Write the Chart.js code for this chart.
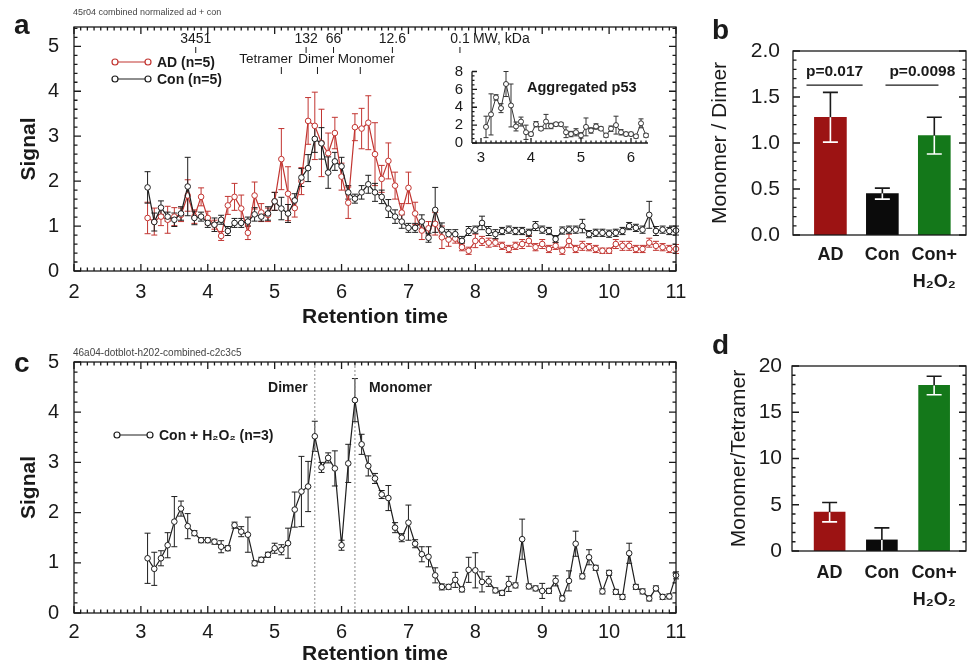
<!DOCTYPE html>
<html>
<head>
<meta charset="utf-8">
<title>p53 retention profiles</title>
<script src="https://cdn.jsdelivr.net/npm/chart.js@4.4.1/dist/chart.umd.min.js"></script>
<style>
  body { margin: 0; background: #fff; }
  #fig { position: relative; width: 973px; height: 667px; background: #fff; overflow: hidden;
         font-family: "Liberation Sans", Arial, Helvetica, sans-serif; color: #1a1a1a; }
  #fig canvas { position: absolute; }
  .letter { position: absolute; font-weight: bold; font-size: 28px; line-height: 28px; }
  .note { position: absolute; color: #444; white-space: nowrap; }
</style>
</head>
<body>
<div id="fig">
  <canvas id="panelA" width="700" height="335" style="left:0;top:0"></canvas>
  <canvas id="panelC" width="700" height="332" style="left:0;top:335px"></canvas>
  <canvas id="inset" width="230" height="120" style="left:430px;top:55px"></canvas>
  <canvas id="panelB" width="273" height="300" style="left:700px;top:0"></canvas>
  <canvas id="panelD" width="273" height="337" style="left:700px;top:330px"></canvas>
  <div class="letter" style="left:14px;top:11px">a</div>
  <div class="letter" style="left:712px;top:16px">b</div>
  <div class="letter" style="left:14px;top:349px">c</div>
  <div class="letter" style="left:712px;top:331px">d</div>
  <div class="note" style="left:73px;top:7px;font-size:9px">45r04 combined normalized ad + con</div>
  <div class="note" style="left:73px;top:347px;font-size:10px">46a04-dotblot-h202-combined-c2c3c5</div>
</div>
<script>
// ---- data ----
var retentionTime = [3.1, 3.2, 3.3, 3.4, 3.5, 3.6, 3.7, 3.8, 3.9, 4.0,
    4.1, 4.2, 4.3, 4.4, 4.5, 4.6, 4.7, 4.8, 4.9, 5.0,
    5.1, 5.2, 5.3, 5.4, 5.5, 5.6, 5.7, 5.8, 5.9, 6.0,
    6.1, 6.2, 6.3, 6.4, 6.5, 6.6, 6.7, 6.8, 6.9, 7.0,
    7.1, 7.2, 7.3, 7.4, 7.5, 7.6, 7.7, 7.8, 7.9, 8.0,
    8.1, 8.2, 8.3, 8.4, 8.5, 8.6, 8.7, 8.8, 8.9, 9.0,
    9.1, 9.2, 9.3, 9.4, 9.5, 9.6, 9.7, 9.8, 9.9, 10.0,
    10.1, 10.2, 10.3, 10.4, 10.5, 10.6, 10.7, 10.8, 10.9, 11.0];

var adSignal = [1.18, 1.10, 1.21, 1.14, 1.21, 1.25, 1.68, 1.21, 1.65, 1.18,
    1.03, 0.78, 1.46, 1.65, 1.39, 0.85, 1.68, 1.30, 1.25, 1.55,
    2.49, 1.72, 1.40, 2.00, 3.34, 3.23, 2.85, 2.62, 3.07, 2.10,
    1.52, 3.20, 3.17, 3.30, 2.60, 2.05, 2.45, 1.90, 1.30, 1.85,
    1.28, 0.90, 0.95, 1.05, 0.75, 0.70, 0.72, 0.53, 0.45, 0.67,
    0.67, 0.63, 0.63, 0.56, 0.49, 0.56, 0.60, 0.67, 0.53, 0.60,
    0.49, 0.56, 0.45, 0.67, 0.49, 0.56, 0.53, 0.49, 0.45, 0.45,
    0.60, 0.56, 0.56, 0.49, 0.49, 0.63, 0.56, 0.53, 0.49, 0.49];
var adError = [0.35, 0.30, 0.20, 0.30, 0.20, 0.15, 0.35, 0.15, 0.20, 0.15,
    0.10, 0.10, 0.20, 0.30, 0.30, 0.15, 0.30, 0.20, 0.15, 0.20,
    0.68, 0.60, 0.20, 0.30, 0.52, 0.75, 0.75, 0.45, 0.35, 0.30,
    0.35, 0.30, 0.45, 0.60, 0.70, 0.30, 0.40, 0.30, 0.20, 0.35,
    0.25, 0.20, 0.15, 0.25, 0.25, 0.15, 0.10, 0.08, 0.08, 0.15,
    0.10, 0.10, 0.08, 0.08, 0.08, 0.08, 0.10, 0.12, 0.08, 0.10,
    0.08, 0.08, 0.08, 0.15, 0.08, 0.10, 0.08, 0.08, 0.06, 0.06,
    0.10, 0.10, 0.10, 0.08, 0.08, 0.10, 0.10, 0.08, 0.08, 0.10];

var conSignal = [1.86, 1.09, 1.41, 1.21, 1.14, 1.28, 1.88, 1.18, 1.21, 1.07,
    1.03, 1.14, 0.89, 1.07, 1.07, 1.10, 1.26, 1.21, 1.28, 1.55,
    1.39, 1.28, 1.57, 2.08, 2.29, 2.94, 2.84, 2.19, 2.44, 2.33,
    1.75, 1.61, 1.75, 1.93, 1.75, 1.65, 1.39, 1.21, 1.10, 0.96,
    0.96, 1.10, 0.74, 1.36, 0.92, 0.82, 0.82, 0.67, 0.89, 0.92,
    1.07, 0.89, 0.82, 0.89, 0.92, 0.89, 0.89, 0.85, 1.00, 0.92,
    0.89, 0.71, 0.90, 0.92, 0.92, 1.00, 0.82, 0.85, 0.85, 0.83,
    0.85, 0.89, 1.00, 0.96, 0.92, 1.25, 0.89, 0.92, 0.89, 0.90];
var conError = [0.35, 0.20, 0.15, 0.10, 0.15, 0.15, 0.65, 0.15, 0.10, 0.10,
    0.15, 0.10, 0.10, 0.10, 0.10, 0.10, 0.15, 0.10, 0.15, 0.20,
    0.25, 0.20, 0.15, 0.20, 0.30, 0.30, 0.35, 0.35, 0.20, 0.20,
    0.15, 0.10, 0.15, 0.20, 0.20, 0.15, 0.20, 0.15, 0.15, 0.10,
    0.10, 0.15, 0.10, 0.50, 0.15, 0.10, 0.10, 0.10, 0.10, 0.08,
    0.15, 0.10, 0.10, 0.08, 0.08, 0.08, 0.08, 0.08, 0.10, 0.08,
    0.08, 0.08, 0.08, 0.08, 0.08, 0.15, 0.08, 0.08, 0.08, 0.08,
    0.08, 0.08, 0.08, 0.08, 0.08, 0.30, 0.10, 0.08, 0.08, 0.10];

var h2o2Signal = [1.09, 0.88, 1.09, 1.35, 1.82, 2.08, 1.73, 1.59, 1.45, 1.45,
    1.42, 1.32, 1.29, 1.75, 1.62, 1.56, 0.99, 1.06, 1.16, 1.29,
    1.26, 1.39, 2.06, 2.42, 2.52, 3.52, 2.90, 3.09, 2.88, 1.35,
    2.98, 4.24, 3.36, 2.93, 2.68, 2.36, 2.29, 1.70, 1.50, 1.80,
    1.38, 1.17, 1.12, 0.75, 0.52, 0.52, 0.66, 0.47, 0.86, 0.85,
    0.62, 0.63, 0.45, 0.40, 0.58, 0.55, 1.47, 0.53, 0.49, 0.44,
    0.44, 0.64, 0.29, 0.64, 1.38, 0.73, 1.11, 0.90, 0.43, 0.80,
    0.42, 0.32, 1.19, 0.52, 0.43, 0.29, 0.49, 0.32, 0.33, 0.75];
var h2o2Error = [0.50, 0.33, 0.15, 0.25, 0.50, 0.15, 0.25, 0.05, 0.05, 0.05,
    0.05, 0.12, 0.05, 0.06, 0.10, 0.35, 0.05, 0.05, 0.05, 0.10,
    0.10, 0.30, 0.35, 0.70, 0.50, 0.30, 0.10, 0.10, 0.35, 0.10,
    0.38, 0.43, 0.20, 0.20, 0.10, 0.08, 0.25, 0.10, 0.08, 0.35,
    0.08, 0.15, 0.20, 0.15, 0.06, 0.05, 0.15, 0.05, 0.25, 0.35,
    0.20, 0.10, 0.05, 0.05, 0.15, 0.05, 0.40, 0.05, 0.05, 0.15,
    0.05, 0.10, 0.05, 0.20, 0.25, 0.05, 0.15, 0.05, 0.05, 0.05,
    0.05, 0.05, 0.20, 0.05, 0.05, 0.05, 0.05, 0.05, 0.05, 0.07];

var insetTime = [3.1, 3.2, 3.3, 3.4, 3.5, 3.6, 3.7, 3.8, 3.9, 4.0,
    4.1, 4.2, 4.3, 4.4, 4.5, 4.6, 4.7, 4.8, 4.9, 5.0,
    5.1, 5.2, 5.3, 5.4, 5.5, 5.6, 5.7, 5.8, 5.9, 6.0,
    6.1, 6.2, 6.3];
var aggSignal = [1.8, 3.2, 5.1, 3.9, 6.6, 4.2, 1.85, 2.4, 1.2, 1.0,
    2.1, 1.6, 2.4, 1.9, 2.1, 2.1, 1.2, 1.0, 1.2, 0.85,
    1.8, 1.4, 1.85, 1.6, 0.85, 1.6, 2.0, 1.2, 1.0, 1.0,
    0.75, 2.2, 0.85];
var aggError = [1.2, 2.3, 0.3, 0.5, 1.4, 2.4, 0.5, 0.5, 0.8, 0.2,
    0.3, 0.2, 0.8, 0.3, 0.2, 0.2, 0.6, 0.3, 0.4, 0.3,
    1.0, 0.3, 0.3, 0.2, 0.2, 0.3, 1.0, 0.3, 0.2, 0.2,
    0.2, 0.5, 0.2];

// marker positions on the top axis of panel a
var mwLabels = ['3451', '132', '66', '12.6', '0.1'];
var mwTimes = [3.82, 5.47, 5.88, 6.76, 7.77];
var speciesNames = ['Tetramer', 'Dimer', 'Monomer'];
var speciesTimes = [5.10, 5.64, 6.28];
var speciesLabelAt = [4.87, 5.62, 6.37];
var dimerTime = 5.6;
var monomerTime = 6.2;

// bar panels
var groupPos = [0, 1, 2];
var groupLabels = [['AD'], ['Con'], ['Con+', 'H\u2082O\u2082']];
var monoDimer = [1.28, 0.45, 1.08];
var monoDimerErr = [0.27, 0.06, 0.20];
var monoTetra = [4.2, 1.2, 17.9];
var monoTetraErr = [1.05, 1.3, 1.0];
var pTexts = ['p=0.017', 'p=0.0098'];

var xMajor = [2, 3, 4, 5, 6, 7, 8, 9, 10, 11];
var yMajor = [0, 1, 2, 3, 4, 5];

// ---- styling ----
var ink = '#1a1a1a';
var adRed = '#c23531';
var conBlack = '#1e1e1e';
var barColors = ['#9c1313', '#0b0b0b', '#14781a'];
var FONT = '"Liberation Sans", Arial, Helvetica, sans-serif';
Chart.defaults.font.family = FONT;
Chart.defaults.color = ink;

function pairs(xs, ys) {
    return xs.map(function (x, i) { return {x: x, y: ys[i]}; });
}
function fixTicks(values) {
    return function (scale) {
        scale.ticks = values.map(function (v) { return {value: v}; });
    };
}

// box + inward tick marks
function framePlugin(sides, box) {
    return {
        id: 'frame',
        afterDraw: function (chart) {
            var ctx = chart.ctx, a = chart.chartArea;
            ctx.save();
            ctx.strokeStyle = ink;
            ctx.lineWidth = 1.3;
            if (box) ctx.strokeRect(a.left, a.top, a.right - a.left, a.bottom - a.top);
            sides.forEach(function (s) {
                var scale = chart.scales[s.axis];
                var len = s.len || 7;
                ctx.beginPath();
                if (!box) {
                    if (s.side === 'left') { ctx.moveTo(a.left, a.top); ctx.lineTo(a.left, a.bottom); }
                    if (s.side === 'bottom') { ctx.moveTo(a.left, a.bottom); ctx.lineTo(a.right, a.bottom); }
                }
                var first = Math.ceil(scale.min / s.minor - 1e-6);
                for (var k = first; k * s.minor <= scale.max + 1e-6; k++) {
                    var v = k * s.minor;
                    var major = Math.abs(v / s.major - Math.round(v / s.major)) < 1e-6;
                    var l = major ? len : len / 2;
                    var p = scale.getPixelForValue(v);
                    if (s.side === 'bottom') { ctx.moveTo(p, a.bottom); ctx.lineTo(p, a.bottom - l); }
                    else if (s.side === 'top') { ctx.moveTo(p, a.top); ctx.lineTo(p, a.top + l); }
                    else if (s.side === 'left') { ctx.moveTo(a.left, p); ctx.lineTo(a.left + l, p); }
                    else { ctx.moveTo(a.right, p); ctx.lineTo(a.right - l, p); }
                }
                ctx.stroke();
            });
            ctx.restore();
        }
    };
}

// symmetric error bars under the markers
function lineErrorPlugin(errLists, cap) {
    return {
        id: 'lineErrors',
        beforeDatasetsDraw: function (chart) {
            var ctx = chart.ctx, ys = chart.scales.y;
            ctx.save();
            ctx.lineWidth = 1;
            for (var di = errLists.length - 1; di >= 0; di--) {
                var errs = errLists[di];
                var meta = chart.getDatasetMeta(di);
                var ds = chart.data.datasets[di];
                ctx.strokeStyle = ds.borderColor;
                ctx.beginPath();
                meta.data.forEach(function (pt, i) {
                    var v = ds.data[i].y, e = errs[i];
                    var top = ys.getPixelForValue(v + e);
                    var bot = ys.getPixelForValue(Math.max(v - e, ys.min));
                    ctx.moveTo(pt.x, top); ctx.lineTo(pt.x, bot);
                    ctx.moveTo(pt.x - cap, top); ctx.lineTo(pt.x + cap, top);
                    ctx.moveTo(pt.x - cap, bot); ctx.lineTo(pt.x + cap, bot);
                });
                ctx.stroke();
            }
            ctx.restore();
        }
    };
}

// error bars on bars: black above the bar, white inside it
function barErrorPlugin(errs) {
    return {
        id: 'barErrors',
        afterDatasetsDraw: function (chart) {
            var ctx = chart.ctx, ys = chart.scales.y;
            var meta = chart.getDatasetMeta(0), ds = chart.data.datasets[0];
            ctx.save();
            ctx.lineWidth = 1.6;
            meta.data.forEach(function (bar, i) {
                var v = ds.data[i].y, e = errs[i];
                var yv = ys.getPixelForValue(v), yt = ys.getPixelForValue(v + e);
                var lo = v - e, yb = ys.getPixelForValue(Math.max(lo, 0));
                ctx.strokeStyle = ink;
                ctx.beginPath();
                ctx.moveTo(bar.x, yv); ctx.lineTo(bar.x, yt);
                ctx.moveTo(bar.x - 7.5, yt); ctx.lineTo(bar.x + 7.5, yt);
                ctx.stroke();
                ctx.strokeStyle = '#fff';
                ctx.beginPath();
                ctx.moveTo(bar.x, yv); ctx.lineTo(bar.x, yb);
                if (lo > 0) { ctx.moveTo(bar.x - 7.5, yb); ctx.lineTo(bar.x + 7.5, yb); }
                ctx.stroke();
            });
            ctx.restore();
        }
    };
}

function drawLegendEntry(ctx, x, y, color, text) {
    ctx.strokeStyle = color;
    ctx.lineWidth = 1.2;
    ctx.beginPath(); ctx.moveTo(x, y); ctx.lineTo(x + 33, y); ctx.stroke();
    [x, x + 33].forEach(function (cx) {
        ctx.beginPath(); ctx.arc(cx, y, 3, 0, Math.PI * 2);
        ctx.fillStyle = '#fff'; ctx.fill(); ctx.stroke();
    });
    ctx.fillStyle = ink;
    ctx.font = 'bold 14px ' + FONT;
    ctx.textAlign = 'left';
    ctx.textBaseline = 'middle';
    ctx.fillText(text, x + 42, y + 1);
}

var annotateA = {
    id: 'annotateA',
    afterDraw: function (chart) {
        var ctx = chart.ctx, xs = chart.scales.x, a = chart.chartArea;
        ctx.save();
        ctx.fillStyle = ink; ctx.strokeStyle = ink; ctx.lineWidth = 1;
        ctx.textBaseline = 'middle';
        ctx.textAlign = 'center';
        ctx.font = '14px ' + FONT;
        mwTimes.forEach(function (t, i) {
            var x = xs.getPixelForValue(t);
            ctx.fillText(mwLabels[i], x, a.top + 12);
            ctx.beginPath(); ctx.moveTo(x, a.top + 20); ctx.lineTo(x, a.top + 26); ctx.stroke();
        });
        ctx.textAlign = 'left';
        ctx.fillText('MW, kDa', xs.getPixelForValue(mwTimes[mwTimes.length - 1]) + 13, a.top + 12);
        ctx.textAlign = 'center';
        ctx.font = '13.5px ' + FONT;
        speciesNames.forEach(function (name, i) {
            ctx.fillText(name, xs.getPixelForValue(speciesLabelAt[i]), a.top + 32);
            var x = xs.getPixelForValue(speciesTimes[i]);
            ctx.beginPath(); ctx.moveTo(x, a.top + 40); ctx.lineTo(x, a.top + 47); ctx.stroke();
        });
        drawLegendEntry(ctx, a.left + 41, a.top + 35, adRed, 'AD (n=5)');
        drawLegendEntry(ctx, a.left + 41, a.top + 52, conBlack, 'Con (n=5)');
        ctx.restore();
    }
};

var annotateC = {
    id: 'annotateC',
    beforeDatasetsDraw: function (chart) {
        var ctx = chart.ctx, xs = chart.scales.x, a = chart.chartArea;
        ctx.save();
        ctx.strokeStyle = '#8a8a8a';
        ctx.lineWidth = 1;
        ctx.setLineDash([2, 2]);
        [dimerTime, monomerTime].forEach(function (t) {
            var x = xs.getPixelForValue(t);
            ctx.beginPath(); ctx.moveTo(x, a.top); ctx.lineTo(x, a.bottom); ctx.stroke();
        });
        ctx.restore();
    },
    afterDraw: function (chart) {
        var ctx = chart.ctx, xs = chart.scales.x, a = chart.chartArea;
        ctx.save();
        ctx.fillStyle = ink;
        ctx.font = 'bold 14px ' + FONT;
        ctx.textBaseline = 'middle';
        ctx.textAlign = 'right';
        ctx.fillText('Dimer', xs.getPixelForValue(dimerTime) - 7, a.top + 26);
        ctx.textAlign = 'left';
        ctx.fillText('Monomer', xs.getPixelForValue(monomerTime) + 14, a.top + 26);
        drawLegendEntry(ctx, a.left + 43, a.top + 73, conBlack, 'Con + H\u2082O\u2082 (n=3)');
        ctx.restore();
    }
};

var annotateInset = {
    id: 'annotateInset',
    afterDraw: function (chart) {
        var ctx = chart.ctx, a = chart.chartArea;
        ctx.save();
        ctx.fillStyle = ink;
        ctx.font = 'bold 14.5px ' + FONT;
        ctx.textAlign = 'left';
        ctx.textBaseline = 'middle';
        ctx.fillText('Aggregated p53', a.left + 55, a.top + 16);
        ctx.restore();
    }
};

var annotateB = {
    id: 'annotateB',
    afterDraw: function (chart) {
        var ctx = chart.ctx, xs = chart.scales.x, ys = chart.scales.y;
        var spans = [[-0.46, 0.62, 0.08], [1.06, 2.08, 1.77]];
        var y = ys.getPixelForValue(1.63);
        ctx.save();
        ctx.strokeStyle = ink; ctx.fillStyle = ink; ctx.lineWidth = 1.2;
        ctx.font = 'bold 15.5px ' + FONT;
        ctx.textAlign = 'center';
        ctx.textBaseline = 'middle';
        spans.forEach(function (s, i) {
            ctx.beginPath();
            ctx.moveTo(xs.getPixelForValue(s[0]), y);
            ctx.lineTo(xs.getPixelForValue(s[1]), y);
            ctx.stroke();
            ctx.fillText(pTexts[i], xs.getPixelForValue(s[2]), y - 13);
        });
        ctx.restore();
    }
};

function lineDataset(label, xs, ys, color) {
    return {
        label: label,
        data: pairs(xs, ys),
        borderColor: color,
        borderWidth: 1.2,
        pointRadius: 2.8,
        pointBorderWidth: 1,
        pointBorderColor: color,
        pointBackgroundColor: '#fff',
        tension: 0,
        clip: false
    };
}

function traceOptions(box) {
    return {
        responsive: false,
        animation: false,
        devicePixelRatio: 1,
        layout: {padding: {left: 0, top: box.top, right: box.right, bottom: 0}},
        plugins: {legend: {display: false}, tooltip: {enabled: false}},
        scales: {
            x: {
                type: 'linear', min: 2, max: 11,
                afterFit: function (s) { s.height = box.xh; },
                afterBuildTicks: fixTicks(xMajor),
                grid: {display: false, drawTicks: false},
                border: {display: false},
                ticks: {font: {size: 20}, padding: box.xpad, maxRotation: 0, autoSkip: false},
                title: {display: true, text: 'Retention time', font: {size: 21, weight: 'bold'},
                        padding: {top: 0, bottom: box.xtitle}}
            },
            y: {
                min: 0, max: box.ymax,
                afterFit: function (s) { s.width = box.yw; },
                afterBuildTicks: fixTicks(yMajor),
                grid: {display: false, drawTicks: false},
                border: {display: false},
                ticks: {font: {size: 20}, padding: 15, autoSkip: false},
                title: {display: true, text: 'Signal', font: {size: 21, weight: 'bold'},
                        padding: {top: 17, bottom: 0}}
            }
        }
    };
}

var traceSides = [
    {side: 'bottom', axis: 'x', major: 1, minor: 0.1},
    {side: 'top', axis: 'x', major: 1, minor: 0.1},
    {side: 'left', axis: 'y', major: 1, minor: 0.2},
    {side: 'right', axis: 'y', major: 1, minor: 0.2}
];

// panel a
new Chart(document.getElementById('panelA'), {
    type: 'line',
    data: {
        datasets: [
            lineDataset('Con (n=5)', retentionTime, conSignal, conBlack),
            lineDataset('AD (n=5)', retentionTime, adSignal, adRed)
        ]
    },
    options: traceOptions({top: 20, right: 24, xh: 64, yw: 74, ymax: 5.43, xpad: 9, xtitle: 5}),
    plugins: [lineErrorPlugin([conError, adError], 3), framePlugin(traceSides, true), annotateA]
});

// panel c
new Chart(document.getElementById('panelC'), {
    type: 'line',
    data: {
        datasets: [lineDataset('Con + H2O2 (n=3)', retentionTime, h2o2Signal, conBlack)]
    },
    options: traceOptions({top: 24, right: 24, xh: 54, yw: 74, ymax: 5, xpad: 7, xtitle: 0}),
    plugins: [lineErrorPlugin([h2o2Error], 3), framePlugin(traceSides, true), annotateC]
});

// inset of panel a
var insetOpts = {
    responsive: false,
    animation: false,
    devicePixelRatio: 1,
    layout: {padding: {left: 0, top: 15, right: 12, bottom: 0}},
    plugins: {legend: {display: false}, tooltip: {enabled: false}},
    scales: {
        x: {
            type: 'linear', min: 2.82, max: 6.34,
            afterFit: function (s) { s.height = 32; },
            afterBuildTicks: fixTicks([3, 4, 5, 6]),
            grid: {display: false, drawTicks: false},
            border: {display: false},
            ticks: {font: {size: 15}, padding: 6, maxRotation: 0, autoSkip: false}
        },
        y: {
            min: 0, max: 8,
            afterFit: function (s) { s.width = 42; },
            afterBuildTicks: fixTicks([0, 2, 4, 6, 8]),
            grid: {display: false, drawTicks: false},
            border: {display: false},
            ticks: {font: {size: 15, lineHeight: 1}, padding: 9, autoSkip: false}
        }
    }
};
var insetSet = lineDataset('Aggregated p53', insetTime, aggSignal, '#333');
insetSet.pointRadius = 2.5;
insetSet.borderWidth = 1;
new Chart(document.getElementById('inset'), {
    type: 'line',
    data: {datasets: [insetSet]},
    options: insetOpts,
    plugins: [
        lineErrorPlugin([aggError], 2.5),
        framePlugin([
            {side: 'bottom', axis: 'x', major: 1, minor: 0.1, len: 5},
            {side: 'left', axis: 'y', major: 2, minor: 0.5, len: 5}
        ], false),
        annotateInset
    ]
});

function barOptions(box) {
    return {
        responsive: false,
        animation: false,
        devicePixelRatio: 1,
        layout: {padding: {left: 0, top: box.top, right: 7, bottom: 0}},
        plugins: {legend: {display: false}, tooltip: {enabled: false}},
        scales: {
            x: {
                type: 'linear', min: -0.72, max: 2.61, offset: false,
                afterFit: function (s) { s.height = box.xh; },
                afterBuildTicks: fixTicks(groupPos),
                grid: {display: false, drawTicks: false, offset: false},
                border: {display: false},
                ticks: {
                    font: {size: 18, weight: 'bold', lineHeight: 1.5},
                    padding: box.xpad, maxRotation: 0, autoSkip: false,
                    callback: function (v) { return groupLabels[v]; }
                }
            },
            y: {
                min: 0, max: box.ymax,
                afterFit: function (s) { s.width = box.yw; },
                afterBuildTicks: fixTicks(box.yticks),
                grid: {display: false, drawTicks: false},
                border: {display: false},
                ticks: {
                    font: {size: 21}, padding: box.ypad, autoSkip: false,
                    callback: function (v) { return box.decimals ? v.toFixed(1) : String(v); }
                },
                title: {display: true, text: box.title, font: {size: 21},
                        padding: {top: box.ytitle, bottom: 0}}
            }
        }
    };
}

// panel b
new Chart(document.getElementById('panelB'), {
    type: 'bar',
    data: {
        datasets: [{
            label: 'Monomer / Dimer',
            data: pairs(groupPos, monoDimer),
            backgroundColor: barColors,
            barThickness: 32
        }]
    },
    options: barOptions({top: 51, xh: 65, yw: 93, ymax: 2, yticks: [0, 0.5, 1, 1.5, 2],
                         decimals: true, ypad: 13, xpad: 6.5, ytitle: 8, title: 'Monomer / Dimer'}),
    plugins: [barErrorPlugin(monoDimerErr), framePlugin([
        {side: 'left', axis: 'y', major: 0.5, minor: 0.1},
        {side: 'right', axis: 'y', major: 0.5, minor: 0.1}
    ], true), annotateB]
});

// panel d
new Chart(document.getElementById('panelD'), {
    type: 'bar',
    data: {
        datasets: [{
            label: 'Monomer/Tetramer',
            data: pairs(groupPos, monoTetra),
            backgroundColor: barColors,
            barThickness: 31
        }]
    },
    options: barOptions({top: 36, xh: 116, yw: 92, ymax: 20, yticks: [0, 5, 10, 15, 20],
                         decimals: false, ypad: 10, xpad: 8.5, ytitle: 27, title: 'Monomer/Tetramer'}),
    plugins: [barErrorPlugin(monoTetraErr), framePlugin([
        {side: 'left', axis: 'y', major: 5, minor: 1},
        {side: 'right', axis: 'y', major: 5, minor: 1}
    ], true)]
});
</script>
</body>
</html>
